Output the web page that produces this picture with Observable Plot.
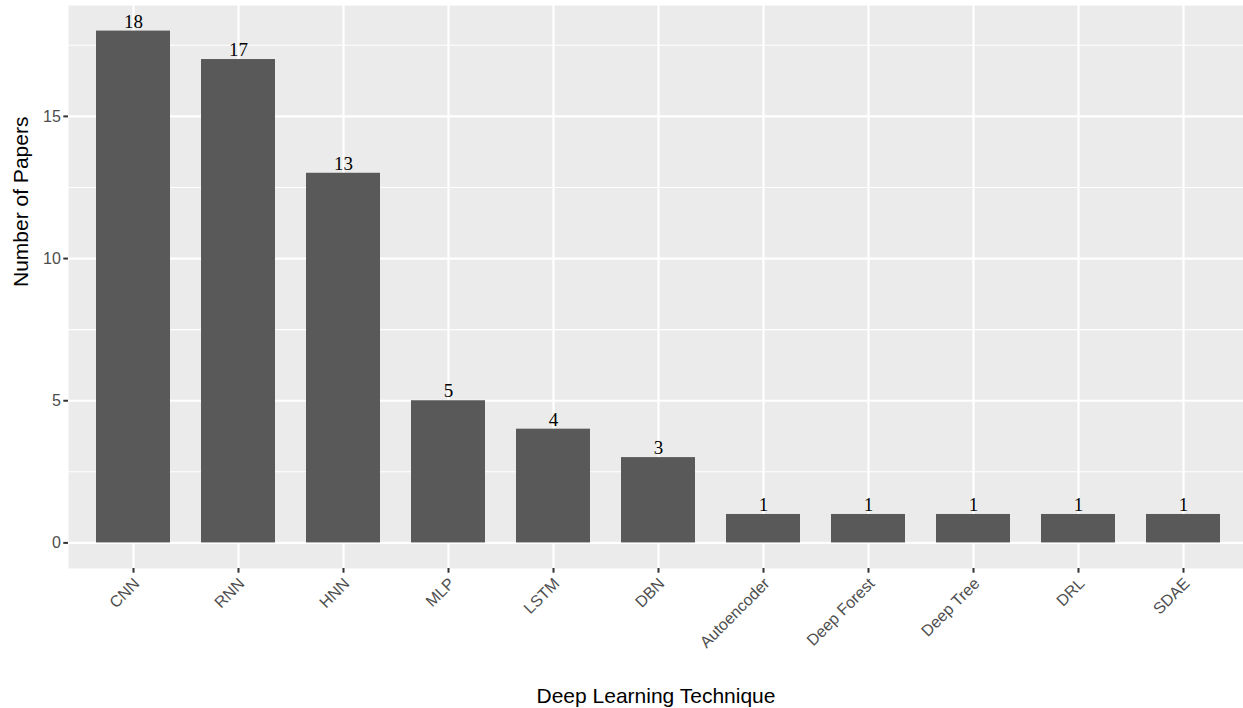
<!DOCTYPE html>
<html>
<head>
<meta charset="utf-8">
<script src="https://cdn.jsdelivr.net/npm/d3@7"></script>
<script src="https://cdn.jsdelivr.net/npm/@observablehq/plot@0.6"></script>
<style>
  html, body { margin: 0; padding: 0; background: #ffffff; overflow: hidden; }
  #chart svg { display: block; }
</style>
</head>
<body>
<div id="chart"></div>
<script>
const categories = ["CNN", "RNN", "HNN", "MLP", "LSTM", "DBN", "Autoencoder", "Deep Forest", "Deep Tree", "DRL", "SDAE"];
const papers = [18, 17, 13, 5, 4, 3, 1, 1, 1, 1, 1];
const majorTicks = [0, 5, 10, 15];
const minorTicks = [2.5, 7.5, 12.5, 17.5];
const xTitle = "Deep Learning Technique";
const yTitle = "Number of Papers";

const data = categories.map((c, i) => ({technique: c, count: papers[i]}));

const sans = "Liberation Sans, Arial, sans-serif";
const serif = "Liberation Serif, Times New Roman, serif";

const chart = Plot.plot({
  width: 1243,
  height: 708,
  marginLeft: 68,
  marginRight: 0,
  marginTop: 5,
  marginBottom: 140,
  style: {fontFamily: sans, background: "#ffffff", overflow: "hidden"},
  x: {type: "band", domain: categories, range: [68, 1247], paddingInner: 0.3, paddingOuter: 0.25, align: 0.5, axis: null},
  y: {domain: [-0.9, 18.9], axis: null},
  marks: [
    Plot.frame({fill: "#EBEBEB", stroke: null}),
    Plot.gridY(minorTicks, {stroke: "#ffffff", strokeOpacity: 1, strokeWidth: 1.1}),
    Plot.gridY(majorTicks, {stroke: "#ffffff", strokeOpacity: 1, strokeWidth: 2.2}),
    Plot.gridX(categories, {stroke: "#ffffff", strokeOpacity: 1, strokeWidth: 2.2}),
    Plot.barY(data, {x: "technique", y: "count", fill: "#595959"}),
    Plot.text(data, {x: "technique", y: "count", text: d => String(d.count), lineAnchor: "bottom", dy: -3.5, fontFamily: serif, fontSize: 19, fill: "#000000"}),
    Plot.axisY({ticks: majorTicks, tickSize: 4.7, tickPadding: 3, stroke: "#333333", strokeWidth: 2, fill: "#4D4D4D", fontSize: 16, label: null}),
    Plot.axisX({ticks: categories, tickSize: 4.7, stroke: "#333333", strokeWidth: 2, tickFormat: () => "", label: null}),
    Plot.text(categories, {x: d => d, frameAnchor: "bottom", text: d => d, rotate: -45, textAnchor: "end", lineAnchor: "top", dx: -1, dy: 8, fontSize: 16, fill: "#4D4D4D"}),
    Plot.text([xTitle], {frameAnchor: "bottom", text: d => d, lineAnchor: "bottom", dy: 134, fontSize: 21, fill: "#000000"}),
    Plot.text([yTitle], {frameAnchor: "left", text: d => d, rotate: -90, lineAnchor: "middle", dx: -47, fontSize: 21, fill: "#000000"})
  ]
});
document.getElementById("chart").appendChild(chart);
</script>
</body>
</html>
